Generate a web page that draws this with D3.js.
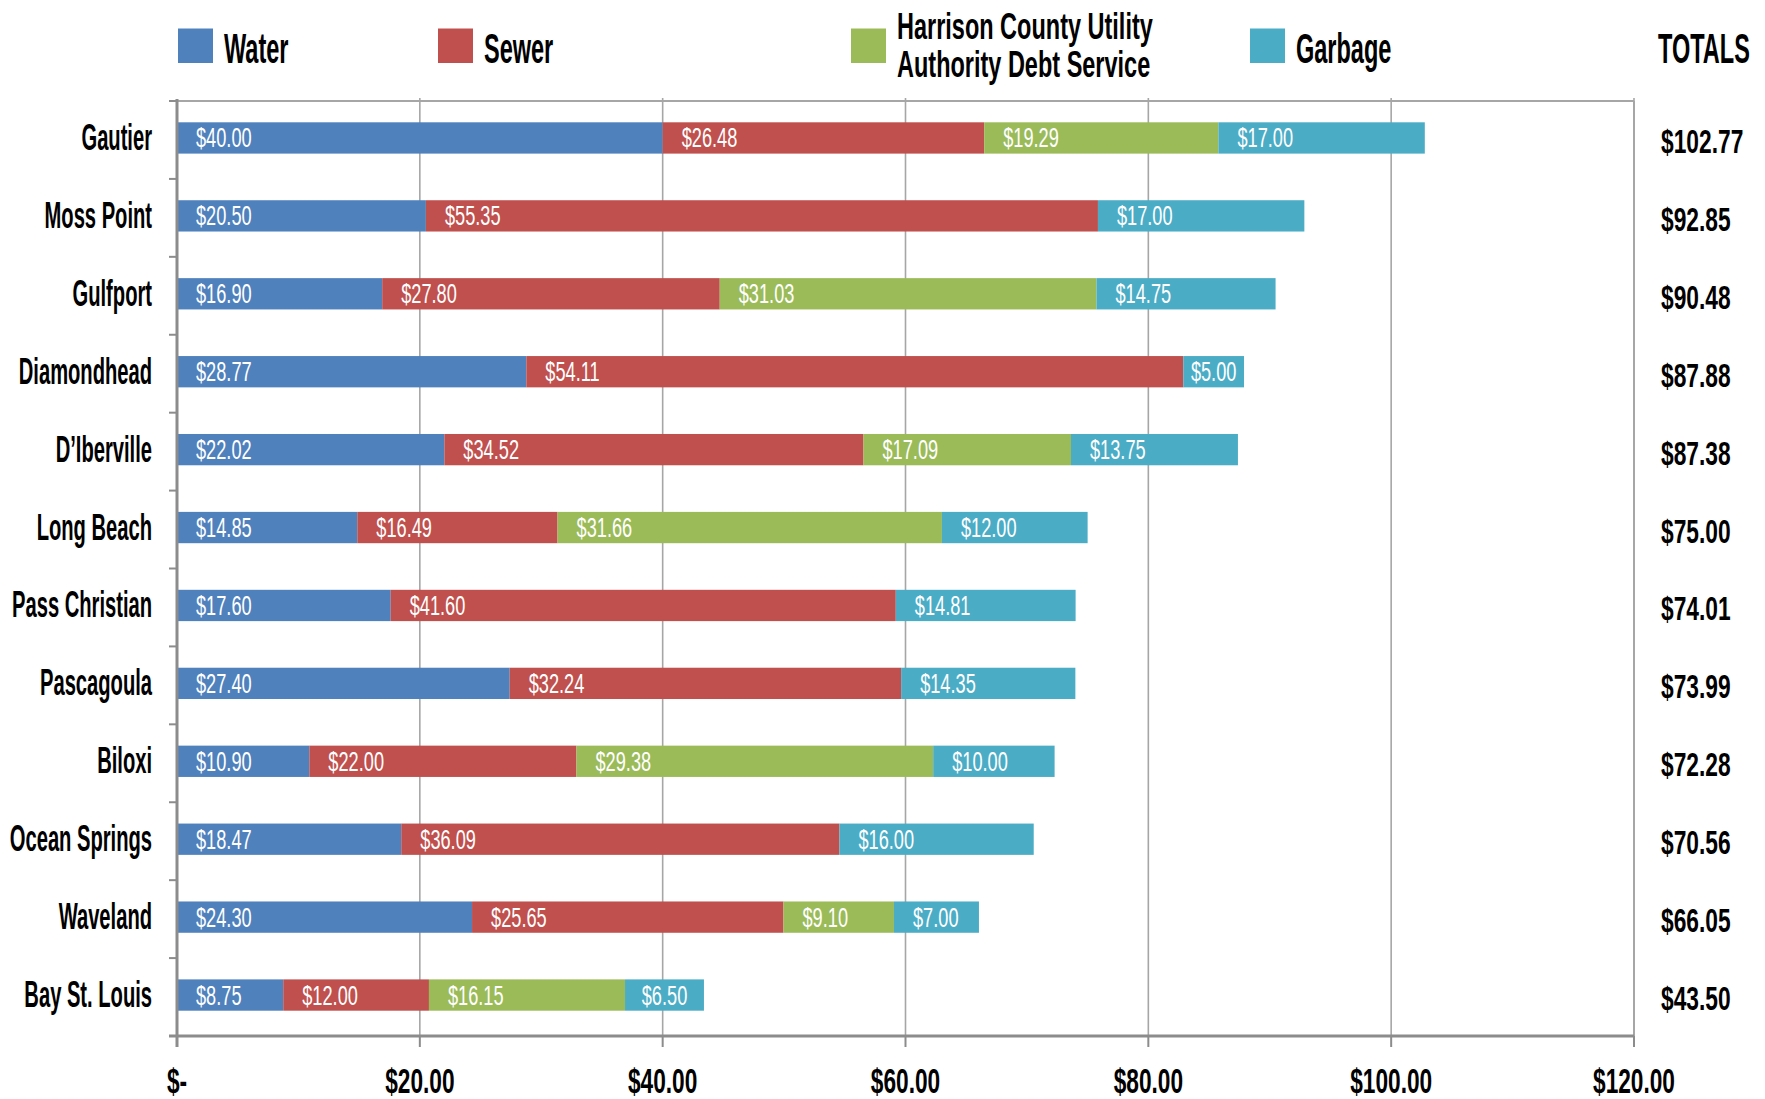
<!DOCTYPE html>
<html><head><meta charset="utf-8">
<script src="https://cdn.jsdelivr.net/npm/d3@7"></script>
<style>
html,body{margin:0;padding:0;background:#fff;}
svg text{font-family:"Liberation Sans","Arial",sans-serif;font-weight:bold;}
</style></head>
<body><svg id="chart" width="1765" height="1099"></svg>
<script>
const categories = ["Gautier","Moss Point","Gulfport","Diamondhead","D\u2019Iberville","Long Beach","Pass Christian","Pascagoula","Biloxi","Ocean Springs","Waveland","Bay St. Louis"];
const water   = [40.00, 20.50, 16.90, 28.77, 22.02, 14.85, 17.60, 27.40, 10.90, 18.47, 24.30, 8.75];
const sewer   = [26.48, 55.35, 27.80, 54.11, 34.52, 16.49, 41.60, 32.24, 22.00, 36.09, 25.65, 12.00];
const hcua    = [19.29, 0, 31.03, 0, 17.09, 31.66, 0, 0, 29.38, 0, 9.10, 16.15];
const garbage = [17.00, 17.00, 14.75, 5.00, 13.75, 12.00, 14.81, 14.35, 10.00, 16.00, 7.00, 6.50];
const totals  = ["$102.77","$92.85","$90.48","$87.88","$87.38","$75.00","$74.01","$73.99","$72.28","$70.56","$66.05","$43.50"];
const seriesNames = ["Water","Sewer","Harrison County Utility|Authority Debt Service","Garbage"];
const seriesColors = ["#4F81BD","#C0504D","#9BBB59","#4BACC6"];
const xTicks = [0,20,40,60,80,100,120];
const xTickLabels = ["$-","$20.00","$40.00","$60.00","$80.00","$100.00","$120.00"];
const totalsHeader = "TOTALS";

const svg = d3.select("#chart");
const L = 177, R = 1634, T = 101, B = 1036;
const x = d3.scaleLinear().domain([0,120]).range([L,R]);
const y = d3.scaleBand().domain(categories).range([T,B]);
const barH = 31.3, barShift = -2;
const barY = c => y(c) + y.bandwidth()/2 - barH/2 + barShift;
const barC = c => y(c) + y.bandwidth()/2 + barShift;

const seriesData = [water, sewer, hcua, garbage];
const rows = categories.map((c,i)=>{ let acc=0; return seriesData.map((s,k)=>{ const v=s[i]; const seg={cat:c,k,v,x0:acc,x1:acc+v}; acc+=v; return seg;}); });

// gridlines
svg.append("g").selectAll("line").data(xTicks.slice(1)).join("line")
  .attr("x1",d=>x(d)).attr("x2",d=>x(d)).attr("y1",T-3).attr("y2",B)
  .attr("stroke","#a6a6a6").attr("stroke-width",1.6);
// top frame
svg.append("line").attr("x1",L-8).attr("x2",R).attr("y1",T).attr("y2",T).attr("stroke","#a6a6a6").attr("stroke-width",2);

// bars
const g = svg.append("g");
rows.forEach(r=>{
  r.forEach(seg=>{
    if(seg.v<=0) return;
    g.append("rect").attr("x",x(seg.x0)).attr("width",x(seg.x1)-x(seg.x0))
      .attr("y",barY(seg.cat)).attr("height",barH).attr("fill",seriesColors[seg.k]);
  });
});
// bar labels
const barLblScale = 0.65;
rows.forEach(r=>{
  r.forEach(seg=>{
    if(seg.v<=0) return;
    const t = g.append("text").text("$"+seg.v.toFixed(2)).attr("fill","#fff").attr("font-size",28).style("font-weight","normal");
    const w = t.node().getComputedTextLength()*barLblScale;
    const segW = x(seg.x1)-x(seg.x0);
    const pad = Math.min(19, Math.max(1,(segW-w)/2));
    t.attr("transform",`translate(${x(seg.x0)+pad},${barC(seg.cat)+9.5}) scale(${barLblScale},1)`);
  });
});

// left axis
svg.append("line").attr("x1",L).attr("x2",L).attr("y1",T-2).attr("y2",B+11).attr("stroke","#8c8c8c").attr("stroke-width",3);
const bounds = d3.range(categories.length+1).map(i=>T+i*y.step());
svg.append("g").selectAll("line").data(bounds).join("line")
  .attr("x1",L-8).attr("x2",L).attr("y1",d=>d).attr("y2",d=>d).attr("stroke","#8c8c8c").attr("stroke-width",2);
// right frame
svg.append("line").attr("x1",R).attr("x2",R).attr("y1",T).attr("y2",B).attr("stroke","#a6a6a6").attr("stroke-width",2);
// bottom axis
svg.append("line").attr("x1",L-8).attr("x2",R).attr("y1",B).attr("y2",B).attr("stroke","#8c8c8c").attr("stroke-width",3);
svg.append("g").selectAll("line").data(xTicks).join("line")
  .attr("x1",d=>x(d)).attr("x2",d=>x(d)).attr("y1",B).attr("y2",B+11).attr("stroke","#8c8c8c").attr("stroke-width",2);

// x tick labels
const xs = 0.63;
svg.append("g").selectAll("text").data(xTicks).join("text")
  .text((d,i)=>xTickLabels[i]).attr("text-anchor","middle").attr("font-size",36).attr("fill","#000")
  .attr("transform",d=>`translate(${x(d)},1093) scale(${xs},1)`);

// category labels
const cs = 0.56;
svg.append("g").selectAll("text").data(categories).join("text")
  .text(d=>d).attr("text-anchor","end").attr("font-size",36).attr("fill","#000")
  .attr("transform",d=>`translate(152,${barC(d)+12}) scale(${cs},1)`);

// totals
const ts = 0.69;
svg.append("g").selectAll("text").data(categories).join("text")
  .text((d,i)=>totals[i]).attr("text-anchor","start").attr("font-size",33).attr("fill","#000")
  .attr("transform",d=>`translate(1661,${barC(d)+15}) scale(${ts},1)`);

// legend
const legX = [178, 438, 851, 1250];
seriesNames.forEach((n,k)=>{
  svg.append("rect").attr("x",legX[k]).attr("y",28.5).attr("width",35).attr("height",34.5).attr("fill",seriesColors[k]);
  const lines = n.split("|");
  lines.forEach((ln,j)=>{
    const multi = lines.length>1;
    const by = multi ? 39 + j*38 : 63;
    svg.append("text").text(ln).attr("font-size",multi?37:42).attr("fill","#000")
      .attr("transform",`translate(${legX[k]+46},${by}) scale(${multi?0.635:0.56},1)`);
  });
});
svg.append("text").text(totalsHeader).attr("font-size",42).attr("fill","#000")
  .attr("transform",`translate(1658,63) scale(0.56,1)`);
</script></body></html>
